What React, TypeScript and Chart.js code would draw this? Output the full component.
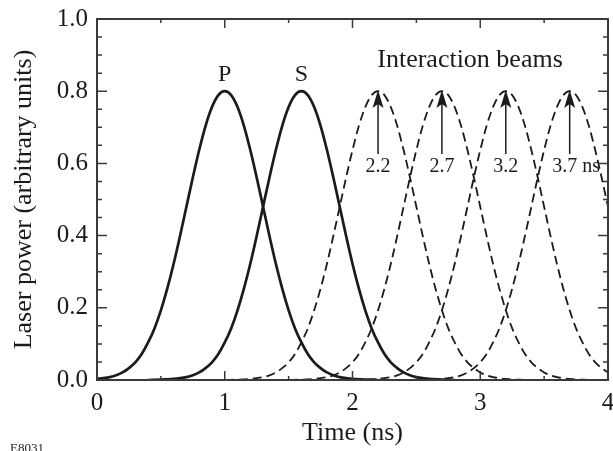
import React, { useEffect, useRef } from "react";
import { Chart, registerables } from "chart.js";

Chart.register(...registerables);

// Pulse profile (offset from pulse centre in ns -> power)
const pulseOffsets = [
  -1.2, -1.1, -1.0, -0.95, -0.9, -0.85, -0.8, -0.75, -0.7, -0.65, -0.6, -0.55, -0.5, -0.45, -0.4, -0.35,
  -0.3, -0.25, -0.2, -0.15, -0.1, -0.05, 0, 0.05, 0.1, 0.15, 0.2, 0.25, 0.3, 0.35, 0.4, 0.45, 0.5, 0.55,
  0.6, 0.65, 0.7, 0.75, 0.8, 0.85, 0.9, 0.95, 1.0, 1.1, 1.2,
];
const pulseValues = [
  0.0, 0.001, 0.003, 0.005, 0.008, 0.013, 0.021, 0.033, 0.049, 0.072, 0.104, 0.143, 0.193, 0.253, 0.322, 0.399,
  0.48, 0.561, 0.637, 0.704, 0.756, 0.789, 0.8, 0.789, 0.756, 0.704, 0.637, 0.561, 0.48, 0.399, 0.322, 0.253,
  0.193, 0.143, 0.104, 0.072, 0.049, 0.033, 0.021, 0.013, 0.008, 0.005, 0.003, 0.001, 0.0,
];

const pumpCenters = [1.0, 1.6];
const pumpLabels = ["P", "S"];
const beamCenters = [2.2, 2.7, 3.2, 3.7];
const beamLabels = ["2.2", "2.7", "3.2", "3.7 ns"];
const beamLabelX = [2.2, 2.7, 3.2, 3.75];

const xTickValues = [0, 1, 2, 3, 4];
const yTickValues = [0, 0.2, 0.4, 0.6, 0.8, 1.0];

const INK = "#1b1b1b";
const AXIS = "#3a3a3a";
const SERIF = "'Liberation Serif', 'Times New Roman', serif";

function pulse(center: number) {
  return pulseOffsets
    .map((o, i) => ({ x: center + o, y: pulseValues[i] }))
    .filter((p) => p.x >= -0.05 && p.x <= 4.05);
}

const decor = {
  id: "decor",
  afterDatasetsDraw(chart: any) {
    const { ctx, chartArea: a, scales } = chart;
    const xs = scales.x;
    const ys = scales.y;
    ctx.save();
    // frame
    ctx.strokeStyle = AXIS;
    ctx.lineWidth = 2;
    ctx.strokeRect(a.left, a.top, a.right - a.left, a.bottom - a.top);
    // x tick marks (major every 1, minor every 0.5)
    ctx.lineWidth = 1.5;
    for (let k = 0; k <= 8; k++) {
      const v = k * 0.5;
      const px = xs.getPixelForValue(v);
      const len = k % 2 === 0 ? 9 : 4;
      ctx.beginPath();
      ctx.moveTo(px, a.bottom);
      ctx.lineTo(px, a.bottom - len);
      ctx.moveTo(px, a.top);
      ctx.lineTo(px, a.top + len);
      ctx.stroke();
    }
    // y tick marks (major every 0.2, minor every 0.05)
    for (let k = 0; k <= 20; k++) {
      const v = k * 0.05;
      const py = ys.getPixelForValue(v);
      const len = k % 4 === 0 ? 10 : 5;
      ctx.beginPath();
      ctx.moveTo(a.left, py);
      ctx.lineTo(a.left + len, py);
      ctx.moveTo(a.right, py);
      ctx.lineTo(a.right - len, py);
      ctx.stroke();
    }
    // arrows
    ctx.strokeStyle = INK;
    ctx.fillStyle = INK;
    beamCenters.forEach((c) => {
      const px = xs.getPixelForValue(c);
      const yTip = ys.getPixelForValue(0.803);
      const yBot = ys.getPixelForValue(0.626);
      ctx.lineWidth = 1.5;
      ctx.beginPath();
      ctx.moveTo(px, yBot);
      ctx.lineTo(px, yTip + 10);
      ctx.stroke();
      ctx.beginPath();
      ctx.moveTo(px, yTip);
      ctx.lineTo(px + 5.5, yTip + 18);
      ctx.lineTo(px, yTip + 14);
      ctx.lineTo(px - 5.5, yTip + 18);
      ctx.closePath();
      ctx.fill();
    });
    // labels
    ctx.fillStyle = INK;
    ctx.textAlign = "center";
    ctx.textBaseline = "middle";
    ctx.font = `20px ${SERIF}`;
    beamLabels.forEach((t, i) => {
      ctx.fillText(t, xs.getPixelForValue(beamLabelX[i]), ys.getPixelForValue(0.592));
    });
    ctx.font = `24px ${SERIF}`;
    pumpLabels.forEach((t, i) => {
      ctx.fillText(t, xs.getPixelForValue(pumpCenters[i]), ys.getPixelForValue(0.845));
    });
    ctx.font = `26px ${SERIF}`;
    ctx.fillText("Interaction beams", xs.getPixelForValue(2.92), ys.getPixelForValue(0.885));
    ctx.font = `13px ${SERIF}`;
    ctx.textAlign = "left";
    ctx.textBaseline = "alphabetic";
    ctx.fillText("E8031", 10, 452);
    ctx.restore();
  },
};

export default function App() {
  const ref = useRef<HTMLCanvasElement | null>(null);
  useEffect(() => {
    document.body.style.margin = "0";
    const canvas = ref.current;
    if (!canvas) return;
    const datasets: any[] = [];
    pumpCenters.forEach((c, i) => {
      datasets.push({
        label: pumpLabels[i],
        data: pulse(c),
        borderColor: INK,
        borderWidth: 2.7,
        pointRadius: 0,
        cubicInterpolationMode: "monotone",
        fill: false,
      });
    });
    beamCenters.forEach((c, i) => {
      datasets.push({
        label: beamLabels[i],
        data: pulse(c),
        borderColor: INK,
        borderWidth: 1.8,
        borderDash: [9, 5],
        pointRadius: 0,
        cubicInterpolationMode: "monotone",
        fill: false,
      });
    });
    const chart = new Chart(canvas, {
      type: "line",
      data: { datasets },
      options: {
        animation: false,
        responsive: false,
        devicePixelRatio: 1,
        layout: { padding: { top: 19, right: 5, left: 0, bottom: 0 } },
        plugins: { legend: { display: false }, tooltip: { enabled: false } },
        scales: {
          x: {
            type: "linear",
            min: 0,
            max: 4,
            afterFit: (s: any) => {
              s.height = 71;
              s.paddingLeft = 0;
              s.paddingRight = 0;
            },
            afterBuildTicks: (s: any) => {
              s.ticks = xTickValues.map((v) => ({ value: v }));
            },
            grid: { display: false, drawTicks: false },
            border: { display: false },
            ticks: {
              padding: 8,
              color: INK,
              font: { family: SERIF, size: 25 },
              callback: (v: any) => String(v),
            },
            title: {
              display: true,
              text: "Time (ns)",
              color: INK,
              font: { family: SERIF, size: 26 },
              padding: { top: 0, bottom: 2 },
            },
          },
          y: {
            type: "linear",
            min: 0,
            max: 1,
            afterFit: (s: any) => {
              s.width = 97;
              s.paddingTop = 0;
              s.paddingBottom = 0;
            },
            afterBuildTicks: (s: any) => {
              s.ticks = yTickValues.map((v) => ({ value: v }));
            },
            grid: { display: false, drawTicks: false },
            border: { display: false },
            ticks: {
              padding: 9,
              color: INK,
              font: { family: SERIF, size: 25 },
              callback: (v: any) => Number(v).toFixed(1),
            },
            title: {
              display: true,
              text: "Laser power (arbitrary units)",
              color: INK,
              font: { family: SERIF, size: 26 },
              padding: { top: 9, bottom: 0 },
            },
          },
        },
      },
      plugins: [decor],
    });
    return () => chart.destroy();
  }, []);
  return (
    <div style={{ width: 613, height: 451 }}>
      <canvas ref={ref} width={613} height={451} style={{ display: "block", width: 613, height: 451 }} />
    </div>
  );
}
